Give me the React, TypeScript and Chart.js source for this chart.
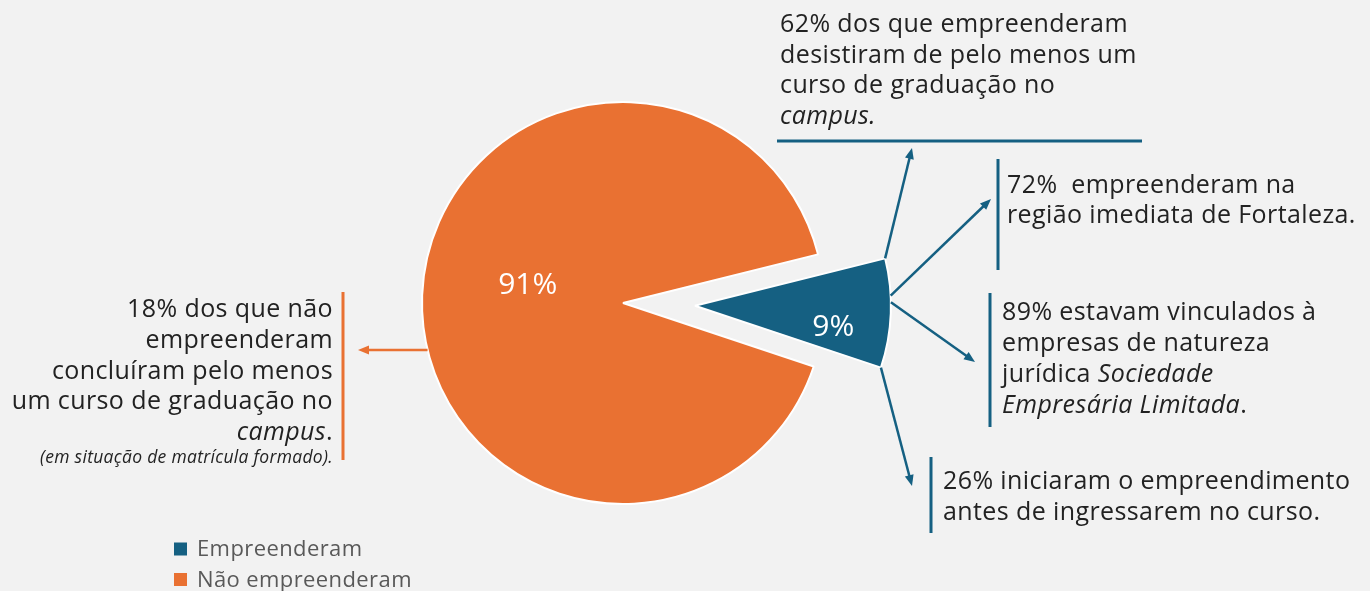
import React, { useEffect, useRef } from 'react';
import { Chart, registerables } from 'chart.js';

Chart.register(...registerables);

// ---------- data ----------
const categories = ['Empreenderam', 'Não empreenderam'];
const shares = [9, 91];
const sliceColors = ['#156082', '#E97132'];

type Seg = { t: string; it?: boolean };
const noteTop: Seg[][] = [
  [{ t: '62% dos que empreenderam' }],
  [{ t: 'desistiram de pelo menos um' }],
  [{ t: 'curso de graduação no' }],
  [{ t: 'campus.', it: true }],
];
const noteRegion: Seg[][] = [
  [{ t: '72%  empreenderam na' }],
  [{ t: 'região imediata de Fortaleza.' }],
];
const noteNature: Seg[][] = [
  [{ t: '89% estavam vinculados à' }],
  [{ t: 'empresas de natureza' }],
  [{ t: 'jurídica ' }, { t: 'Sociedade', it: true }],
  [{ t: 'Empresária Limitada', it: true }, { t: '.' }],
];
const noteBefore: Seg[][] = [
  [{ t: '26% iniciaram o empreendimento' }],
  [{ t: 'antes de ingressarem no curso.' }],
];
const noteLeft: Seg[][] = [
  [{ t: '18% dos que não' }],
  [{ t: 'empreenderam' }],
  [{ t: 'concluíram pelo menos' }],
  [{ t: 'um curso de graduação no' }],
  [{ t: 'campus', it: true }, { t: '.' }],
];
const noteLeftSmall: Seg[][] = [[{ t: '(em situação de matrícula formado).', it: true }]];

// ---------- layout / style ----------
const FONT = '"Open Sans", sans-serif';
const TEXT = '#222222';
const BG = '#F2F2F2';
const BLUE = sliceColors[0];
const ORANGE = sliceColors[1];
const NOTE_SIZE = 25;
const NOTE_SPACING = 0.4;

const explodeCfg = [{ shift: 72, radius: 196 }, null];
const labelPlace = [
  { r: 140, dAngle: 6.8 },
  { r: 97, dAngle: 8.5 },
];

const textBlocks = [
  { lines: noteTop, x: 780, y: 32, lh: 30.7, size: NOTE_SIZE, sp: NOTE_SPACING, align: 'left' },
  { lines: noteRegion, x: 1007, y: 193, lh: 30, size: NOTE_SIZE, sp: NOTE_SPACING, align: 'left' },
  { lines: noteNature, x: 1002, y: 320, lh: 31, size: NOTE_SIZE, sp: NOTE_SPACING, align: 'left' },
  { lines: noteBefore, x: 943, y: 489, lh: 31, size: NOTE_SIZE, sp: NOTE_SPACING, align: 'left' },
  { lines: noteLeft, x: 333, y: 317, lh: 30.8, size: NOTE_SIZE, sp: NOTE_SPACING, align: 'right' },
  { lines: noteLeftSmall, x: 333, y: 463, lh: 18, size: 17.5, sp: 0.3, align: 'right' },
];

const rules = [
  { x1: 777, y1: 141, x2: 1142, y2: 141, color: BLUE },
  { x1: 998, y1: 159, x2: 998, y2: 270, color: BLUE },
  { x1: 990, y1: 293, x2: 990, y2: 427, color: BLUE },
  { x1: 931, y1: 457, x2: 931, y2: 533, color: BLUE },
  { x1: 343, y1: 292, x2: 343, y2: 460, color: ORANGE },
];

const arrows = [
  { slice: 0, at: 0, to: [912, 148] },
  { slice: 0, at: 0.34, to: [991, 199] },
  { slice: 0, at: 0.4, to: [975, 362] },
  { slice: 0, at: 1, to: [912, 486] },
  { slice: 1, at: 0.452, to: [358, 350] },
];

const legendPos = { x: 174, y: 556, gap: 30.5, box: 13, size: 22, sp: 0.4, color: '#595959' };

function fontStr(size: number, italic?: boolean) {
  return `${italic ? 'italic ' : ''}${size}px ${FONT}`;
}

function setSpacing(ctx: any, sp: number) {
  if ('letterSpacing' in ctx) ctx.letterSpacing = `${sp}px`;
}

function drawRich(ctx: CanvasRenderingContext2D, segs: Seg[], x: number, y: number, size: number, sp: number, align: string) {
  setSpacing(ctx, sp);
  let total = 0;
  const widths = segs.map((s) => {
    ctx.font = fontStr(size, s.it);
    const w = ctx.measureText(s.t).width;
    total += w;
    return w;
  });
  let cx = align === 'right' ? x - total : x;
  segs.forEach((s, i) => {
    ctx.font = fontStr(size, s.it);
    ctx.fillText(s.t, cx, y);
    cx += widths[i];
  });
  setSpacing(ctx, 0);
}

function drawArrow(ctx: CanvasRenderingContext2D, x1: number, y1: number, x2: number, y2: number, color: string) {
  const ang = Math.atan2(y2 - y1, x2 - x1);
  const head = 11;
  const half = 4.5;
  const bx = x2 - Math.cos(ang) * head;
  const by = y2 - Math.sin(ang) * head;
  ctx.strokeStyle = color;
  ctx.fillStyle = color;
  ctx.lineWidth = 2.5;
  ctx.beginPath();
  ctx.moveTo(x1, y1);
  ctx.lineTo(bx + Math.cos(ang) * 2, by + Math.sin(ang) * 2);
  ctx.stroke();
  ctx.beginPath();
  ctx.moveTo(x2, y2);
  ctx.lineTo(bx + Math.cos(ang + Math.PI / 2) * half, by + Math.sin(ang + Math.PI / 2) * half);
  ctx.lineTo(bx - Math.cos(ang + Math.PI / 2) * half, by - Math.sin(ang + Math.PI / 2) * half);
  ctx.closePath();
  ctx.fill();
}

const explodePlugin = {
  id: 'explodeSlice',
  afterDatasetUpdate(chart: any, args: any) {
    const meta = args.meta;
    meta.data.forEach((arc: any, i: number) => {
      const cfg = explodeCfg[i];
      if (!cfg) return;
      const mid = (arc.startAngle + arc.endAngle) / 2;
      arc.x = arc.x + Math.cos(mid) * cfg.shift;
      arc.y = arc.y + Math.sin(mid) * cfg.shift;
      arc.outerRadius = cfg.radius;
    });
  },
};

const labelPlugin = {
  id: 'sliceLabels',
  afterDatasetsDraw(chart: any) {
    const ctx: CanvasRenderingContext2D = chart.ctx;
    const meta = chart.getDatasetMeta(0);
    const values: number[] = chart.data.datasets[0].data;
    const total = values.reduce((a, b) => a + b, 0);
    ctx.save();
    ctx.fillStyle = '#FFFFFF';
    ctx.font = fontStr(30);
    ctx.textAlign = 'center';
    ctx.textBaseline = 'middle';
    meta.data.forEach((arc: any, i: number) => {
      const p = labelPlace[i];
      const mid = (arc.startAngle + arc.endAngle) / 2 + (p.dAngle * Math.PI) / 180;
      const x = arc.x + Math.cos(mid) * p.r;
      const y = arc.y + Math.sin(mid) * p.r;
      ctx.fillText(`${Math.round((values[i] / total) * 100)}%`, x, y);
    });
    ctx.restore();
  },
};

const notesPlugin = {
  id: 'notes',
  afterDraw(chart: any) {
    const ctx: CanvasRenderingContext2D = chart.ctx;
    const meta = chart.getDatasetMeta(0);
    ctx.save();
    rules.forEach((r) => {
      ctx.strokeStyle = r.color;
      ctx.lineWidth = 3;
      ctx.beginPath();
      ctx.moveTo(r.x1, r.y1);
      ctx.lineTo(r.x2, r.y2);
      ctx.stroke();
    });
    arrows.forEach((a) => {
      const arc = meta.data[a.slice];
      const ang = arc.startAngle + (arc.endAngle - arc.startAngle) * a.at;
      const sx = arc.x + Math.cos(ang) * arc.outerRadius;
      const sy = arc.y + Math.sin(ang) * arc.outerRadius;
      drawArrow(ctx, sx, sy, a.to[0], a.to[1], chart.data.datasets[0].backgroundColor[a.slice]);
    });
    ctx.fillStyle = TEXT;
    ctx.textBaseline = 'alphabetic';
    ctx.textAlign = 'left';
    textBlocks.forEach((b) => {
      b.lines.forEach((segs, i) => {
        drawRich(ctx, segs, b.x, b.y + i * b.lh, b.size, b.sp, b.align);
      });
    });
    const labels: string[] = chart.data.labels;
    const colors: string[] = chart.data.datasets[0].backgroundColor;
    labels.forEach((lab, i) => {
      const y = legendPos.y + i * legendPos.gap;
      ctx.fillStyle = colors[i];
      ctx.fillRect(legendPos.x, y - 13.5, legendPos.box, legendPos.box);
      ctx.fillStyle = legendPos.color;
      ctx.font = fontStr(legendPos.size);
      ctx.textBaseline = 'alphabetic';
      setSpacing(ctx, legendPos.sp);
      ctx.fillText(lab, legendPos.x + 23, y);
      setSpacing(ctx, 0);
    });
    ctx.restore();
  },
};

export default function App() {
  const canvasRef = useRef<HTMLCanvasElement | null>(null);

  useEffect(() => {
    document.body.style.margin = '0';
    document.body.style.background = BG;
    const canvas = canvasRef.current;
    if (!canvas) return;
    const chart = new Chart(canvas, {
      type: 'pie',
      data: {
        labels: categories,
        datasets: [
          {
            data: shares,
            backgroundColor: sliceColors,
            borderColor: '#FFFFFF',
            borderWidth: 2,
            rotation: 76,
            radius: 201,
          } as any,
        ],
      },
      options: {
        responsive: false,
        maintainAspectRatio: false,
        devicePixelRatio: 1,
        animation: false,
        layout: { padding: { left: 0, right: 124, top: 15, bottom: 0 } },
        plugins: {
          legend: { display: false },
          tooltip: { enabled: false },
          title: { display: false },
        },
      },
      plugins: [explodePlugin, labelPlugin, notesPlugin],
    });
    return () => chart.destroy();
  }, []);

  return (
    <div style={{ position: 'fixed', left: 0, top: 0, width: 1370, height: 591, background: BG }}>
      <canvas ref={canvasRef} width={1370} height={591} style={{ display: 'block', width: 1370, height: 591 }} />
    </div>
  );
}
